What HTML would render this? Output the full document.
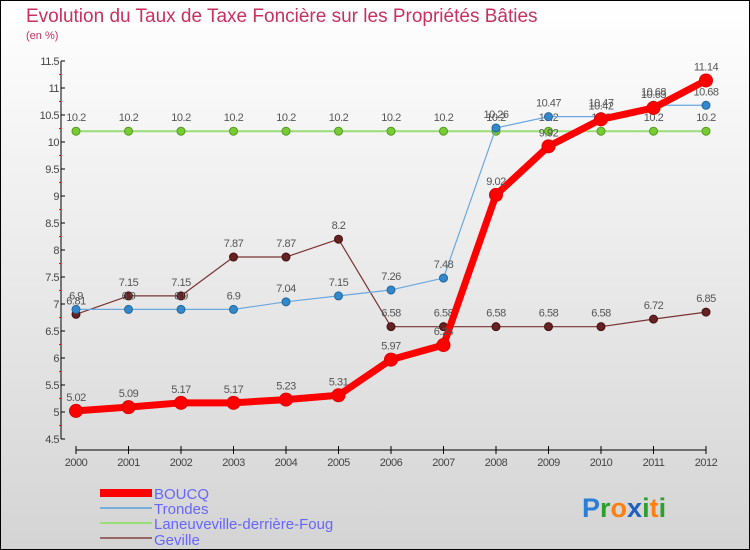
<!DOCTYPE html>
<html><head><meta charset="utf-8"><style>
body{margin:0;padding:0}
#wrap{width:750px;height:550px;position:relative;overflow:hidden}
svg text{font-family:"Liberation Sans",sans-serif}
</style></head><body>
<div id="wrap">
<svg id="c" width="750" height="550" xmlns="http://www.w3.org/2000/svg">
<defs><linearGradient id="bg" x1="0" y1="0" x2="0" y2="1"><stop offset="0" stop-color="#ffffff"/><stop offset="1" stop-color="#d4d4d4"/></linearGradient></defs>
<rect x="0.5" y="0.5" width="749" height="549" fill="url(#bg)" stroke="#000"/>
<text x="26" y="22" font-size="19" fill="#c8305e">Evolution du Taux de Taxe Foncière sur les Propriétés Bâties</text>
<text x="26" y="39" font-size="11" fill="#c8305e">(en %)</text>
<g id="axes"></g><g id="series"></g>
<g>
<rect x="100" y="489" width="52" height="8" fill="#ff0000"/>
<text x="154" y="499" font-size="15" fill="#6666ff">BOUCQ</text>
<rect x="100" y="507" width="52" height="2" fill="#7aafd9"/>
<text x="154" y="514" font-size="15" fill="#6666ff">Trondes</text>
<rect x="100" y="522" width="52" height="2" fill="#99dd77"/>
<text x="154" y="529" font-size="15" fill="#6666ff">Laneuveville-derrière-Foug</text>
<rect x="100" y="537" width="52" height="2" fill="#996666"/>
<text x="154" y="545" font-size="15" fill="#6666ff">Geville</text>
</g>
<text x="582" y="517" font-size="27" font-weight="bold"><tspan fill="#2a7fd4">P</tspan><tspan fill="#2ca02c">r</tspan><tspan fill="#ff7f0e">o</tspan><tspan fill="#1f5fbf">x</tspan><tspan fill="#2ca02c">i</tspan><tspan fill="#ff7f0e">t</tspan><tspan fill="#2ca02c">i</tspan></text>
</svg></div>
<script>
const years=[2000,2001,2002,2003,2004,2005,2006,2007,2008,2009,2010,2011,2012];
const boucq=[5.02,5.09,5.17,5.17,5.23,5.31,5.97,6.24,9.02,9.92,10.42,10.63,11.14];
const trondes=[6.9,6.9,6.9,6.9,7.04,7.15,7.26,7.48,10.26,10.47,10.47,10.68,10.68];
const laneuveville=[10.2,10.2,10.2,10.2,10.2,10.2,10.2,10.2,10.2,10.2,10.2,10.2,10.2];
const geville=[6.81,7.15,7.15,7.87,7.87,8.2,6.58,6.58,6.58,6.58,6.58,6.72,6.85];
const yTicks=[4.5,5,5.5,6,6.5,7,7.5,8,8.5,9,9.5,10,10.5,11,11.5];
const NS="http://www.w3.org/2000/svg";
const X=i=>76+i*52.5;
const Y=v=>304-(v-7)*54;
function mk(tag,attrs,parent){const e=document.createElementNS(NS,tag);for(const k in attrs)e.setAttribute(k,attrs[k]);parent.appendChild(e);return e;}
const ax=document.getElementById('axes');
let e=mk('line',{x1:61,y1:Y(11.5),x2:61,y2:Y(4.5),stroke:'#000'},ax);


e=mk('line',{x1:X(0),y1:450,x2:X(12),y2:450,stroke:'#000'},ax);


yTicks.forEach(t=>{
  mk('line',{x1:61,y1:Y(t),x2:65,y2:Y(t),stroke:'#000'},ax);
  if(t<11.5)mk('line',{x1:59,y1:Y(t+0.25),x2:61,y2:Y(t+0.25),stroke:'#f00'},ax);
  const l=mk('text',{x:59,y:Y(t)+4,'font-size':11,'text-anchor':'end',fill:'#444','letter-spacing':'-0.5'},ax);
  l.textContent=t;
  
  
});
years.forEach((y,i)=>{
  mk('line',{x1:X(i),y1:446,x2:X(i),y2:454,stroke:'#000'},ax);
  const l=mk('text',{x:X(i),y:466,'font-size':11,'text-anchor':'middle',fill:'#444','letter-spacing':'-0.5'},ax);
  l.textContent=y;
  
  
});
const sg=document.getElementById('series');
function series(name,vals,color,w,r,dot,dotStroke){
  const g=mk('g',{},sg);
  
  
  const p=mk('polyline',{points:vals.map((v,i)=>X(i)+','+Y(v)).join(' '),fill:'none',stroke:color,'stroke-width':w,'stroke-linejoin':'round'},g);
  
  
  vals.forEach((v,i)=>{
    const c=mk('circle',{cx:X(i),cy:Y(v),r:r,fill:dot,stroke:dotStroke,'stroke-width':1},g);
    
    
    const t=mk('text',{x:X(i),y:Y(v)-10,'font-size':11,'text-anchor':'middle',fill:'#555','letter-spacing':'-0.5'},g);
    t.textContent=v;
    
    
  });
}
series('laneuveville',laneuveville,'#99dd77',2,4,'#77cc33','#559922');
series('geville',geville,'#7a3333',1.2,4,'#662222','#441111');
series('trondes',trondes,'#6aa8dd',1.2,4,'#3388cc','#226699');
series('boucq',boucq,'#ff0000',7,6.5,'#ff0000','#dd0000');
</script>
</body></html>
